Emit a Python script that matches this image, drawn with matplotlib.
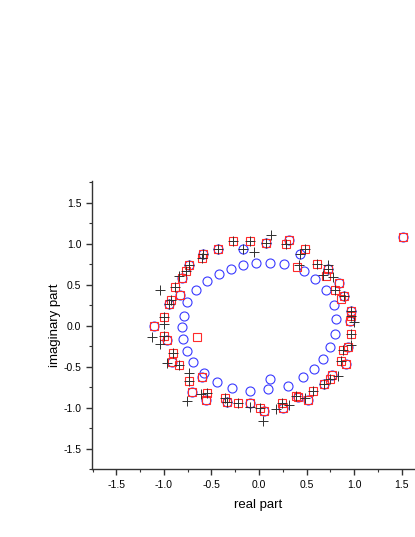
import numpy as np
import matplotlib.pyplot as plt

plt.rcParams['font.family'] = ['Liberation Sans', 'DejaVu Sans']

# eigenvalue sets
circle_x = [-0.03, -0.17, -0.30, -0.42, -0.55, -0.66, -0.76, -0.79, -0.81, -0.80, -0.76,
            -0.69, -0.58, -0.44, -0.28, -0.10, 0.09, 0.12, 0.30, 0.46, 0.58, 0.67, 0.75,
            0.80, 0.81, 0.79, 0.70, 0.59, 0.47, 0.26, 0.12,
            0.97, 0.96, 0.94, 0.91, 0.77, 0.68, 0.52, 0.41, 0.25, 0.05, -0.10, -0.34,
            -0.56, -0.70, -0.60, -0.92, -0.97, -1.11, -0.95, -0.83, -0.81, -0.74, -0.59,
            -0.43, -0.17, 0.07, 0.32, 0.43, 0.73, 0.84, 0.89, 1.51]
circle_y = [0.77, 0.74, 0.69, 0.63, 0.55, 0.44, 0.29, 0.12, -0.02, -0.16, -0.31,
            -0.44, -0.58, -0.68, -0.76, -0.79, -0.77, -0.65, -0.73, -0.63, -0.53, -0.40, -0.26,
            -0.10, 0.08, 0.25, 0.43, 0.57, 0.67, 0.75, 0.77,
            0.18, 0.06, -0.26, -0.47, -0.60, -0.71, -0.90, -0.87, -1.00, -1.04, -0.94, -0.93,
            -0.90, -0.81, -0.62, -0.44, -0.18, 0.00, 0.27, 0.37, 0.58, 0.74, 0.88,
            0.93, 0.94, 1.01, 1.04, 0.87, 0.69, 0.52, 0.36, 1.08]

square_x = [0.97, 0.97, 0.96, 0.97, 0.94, 0.88, 0.86, 0.91, 0.77, 0.75, 0.68, 0.57, 0.52,
            0.39, 0.41, 0.24, 0.25, 0.01, 0.05, -0.10, -0.22, -0.34, -0.36, -0.56, -0.55,
            -0.70, -0.74, -0.60, -0.84, -0.92, -0.91, -0.97, -1.00, -0.65, -1.11, -1.00,
            -0.95, -0.93, -0.83, -0.88, -0.81, -0.77, -0.74, -0.60, -0.59, -0.43, -0.27,
            -0.09, 0.07, 0.28, 0.32, 0.48, 0.40, 0.61, 0.73, 0.70, 0.84, 0.80, 0.89, 0.86, 1.51]
square_y = [0.18, 0.12, 0.06, -0.10, -0.26, -0.29, -0.43, -0.47, -0.60, -0.65, -0.71, -0.80, -0.90,
            -0.86, -0.87, -0.94, -1.00, -1.00, -1.04, -0.94, -0.94, -0.93, -0.88, -0.90, -0.82,
            -0.81, -0.67, -0.62, -0.48, -0.44, -0.33, -0.18, -0.13, -0.14, 0.00, 0.11,
            0.27, 0.31, 0.37, 0.47, 0.58, 0.67, 0.74, 0.82, 0.88, 0.93, 1.03,
            1.03, 1.01, 0.99, 1.04, 0.93, 0.71, 0.75, 0.69, 0.60, 0.52, 0.43, 0.36, 0.33, 1.08]

plus_x = [0.97, 0.97, 1.00, 0.97, 0.97, 0.88, 0.86, 0.83, 0.75, 0.68, 0.57, 0.48, 0.39, 0.32,
          0.24, 0.18, 0.04, 0.01, -0.10, -0.22, -0.34, -0.36, -0.55, -0.61, -0.76, -0.74,
          -0.74, -0.84, -0.97, -0.91, -1.04, -1.00, -1.13, -1.00, -1.00, -0.95, -0.93, -1.04,
          -0.88, -0.84, -0.77, -0.74, -0.60, -0.59, -0.43, -0.27, -0.17, -0.09, -0.05, 0.07,
          0.13, 0.28, 0.43, 0.48, 0.42, 0.61, 0.73, 0.73, 0.67, 0.78, 0.80, 0.89]
plus_y = [0.18, 0.12, 0.04, -0.10, -0.23, -0.29, -0.43, -0.61, -0.65, -0.71, -0.80, -0.88, -0.86, -0.96,
          -0.94, -1.02, -1.16, -1.00, -0.99, -0.94, -0.93, -0.88, -0.82, -0.83, -0.92, -0.67,
          -0.57, -0.48, -0.45, -0.33, -0.22, -0.13, -0.14, 0.02, 0.11, 0.27, 0.31, 0.43,
          0.47, 0.61, 0.67, 0.74, 0.82, 0.88, 0.93, 1.03, 0.94, 1.03, 0.90, 1.01,
          1.10, 0.99, 0.87, 0.93, 0.74, 0.75, 0.69, 0.74, 0.62, 0.59, 0.43, 0.36]

fig = plt.figure(figsize=(4.15, 5.37), dpi=100)
ax = fig.add_axes([0.221, 0.126, 0.804, 0.537])

ax.plot(circle_x, circle_y, 'o', mfc='none', mec='#3a3aff', ms=6.5, mew=0.8)
ax.plot(square_x, square_y, 's', mfc='none', mec='#ff2a2a', ms=6.2, mew=0.8)
ax.plot(plus_x, plus_y, '+', color='#303030', ms=7, mew=0.7)

ax.set_xlim(-1.76, 1.75)
ax.set_ylim(-1.747, 1.764)
ax.set_xticks(np.arange(-1.5, 1.6, 0.5))
ax.set_yticks(np.arange(-1.5, 1.6, 0.5))
ax.set_xticks(np.arange(-1.75, 1.76, 0.25), minor=True)
ax.set_yticks(np.arange(-1.75, 1.76, 0.25), minor=True)
ax.xaxis.set_major_formatter(plt.FormatStrFormatter('%.1f'))
ax.yaxis.set_major_formatter(plt.FormatStrFormatter('%.1f'))

for s in ['top', 'right']:
    ax.spines[s].set_visible(False)
for s in ['left', 'bottom']:
    ax.spines[s].set_linewidth(1.0)
    ax.spines[s].set_color('#333333')
ax.tick_params(which='major', direction='out', length=4, width=1.0, labelsize=7.5, color='#333333')
ax.tick_params(which='minor', direction='out', length=2.5, width=0.8, color='#333333')

ax.set_xlabel('real part', fontsize=9.5, labelpad=7)
ax.set_ylabel('imaginary part', fontsize=9.5, labelpad=2)

fig.savefig('out.png', dpi=100)
